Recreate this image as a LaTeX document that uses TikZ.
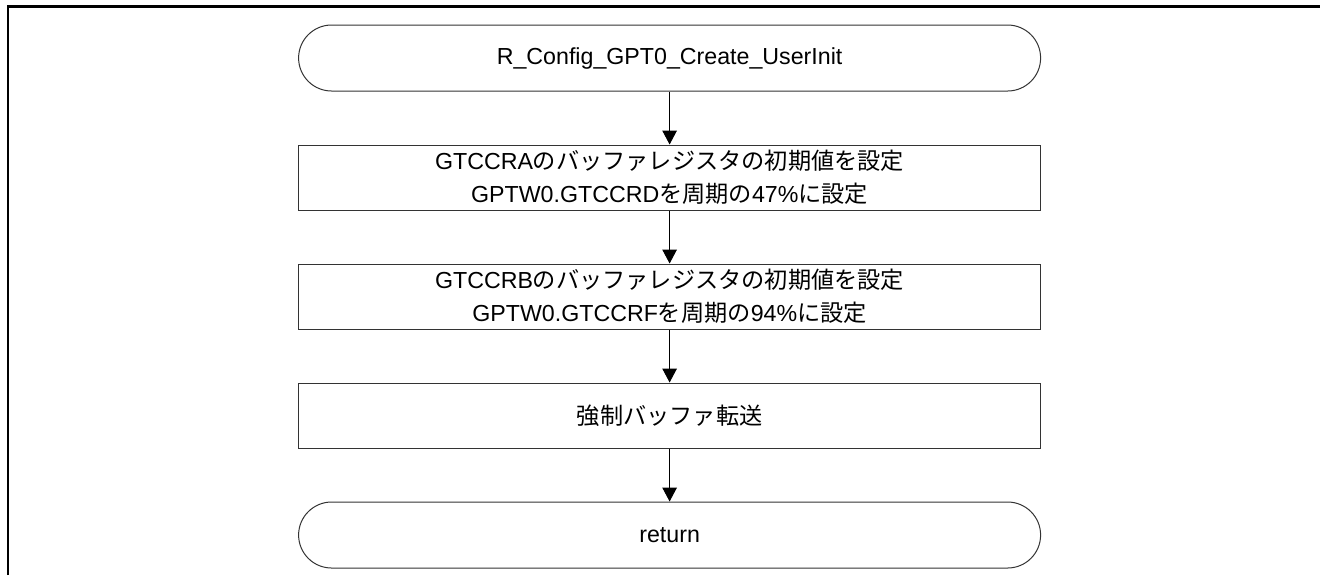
\documentclass[tikz,border=0pt]{standalone}
\usepackage{fontspec}
\setmainfont{Liberation Sans}
\newfontfamily\jpfont{Noto Sans CJK JP}
\newcommand{\jp}[1]{{\jpfont #1}}
\usepackage{tikz}
\usetikzlibrary{arrows.meta,positioning}

\begin{document}
\begin{tikzpicture}[x=0.5pt,y=-0.5pt,node distance=26.5pt,
    font=\fontsize{11.6pt}{16.5pt}\selectfont,
    terminal/.style={draw=black!80,line width=0.5pt,rounded corners=16.5pt,minimum width=371pt,minimum height=33pt,inner sep=0pt},
    procbox/.style={draw=black!80,line width=0.5pt,minimum width=371pt,minimum height=32.5pt,inner sep=0pt,align=center},
    flow/.style={-{Triangle[width=7.3pt,length=7pt]},line width=0.5pt}]
    \useasboundingbox (0,0) rectangle (1320,575);
    \draw[line width=1.2pt] (8,575) -- (8,6.5) -- (1320,6.5);

    \node[terminal] (start) at (669.6,58) {R\_Config\_GPT0\_Create\_UserInit};
    \node[procbox,below=of start] (bufa) {GTCCRA\jp{のバッファレジスタの初期値を設定}\\GPTW0.GTCCRD\jp{を周期の}47\%\jp{に設定}};
    \node[procbox,below=of bufa] (bufb) {GTCCRB\jp{のバッファレジスタの初期値を設定}\\GPTW0.GTCCRF\jp{を周期の}94\%\jp{に設定}};
    \node[procbox,below=of bufb] (xfer) {\jp{強制バッファ転送}};
    \node[terminal,below=of xfer] (ret) {return};

    \draw[flow] (start) -- (bufa);
    \draw[flow] (bufa) -- (bufb);
    \draw[flow] (bufb) -- (xfer);
    \draw[flow] (xfer) -- (ret);
\end{tikzpicture}
\end{document}
